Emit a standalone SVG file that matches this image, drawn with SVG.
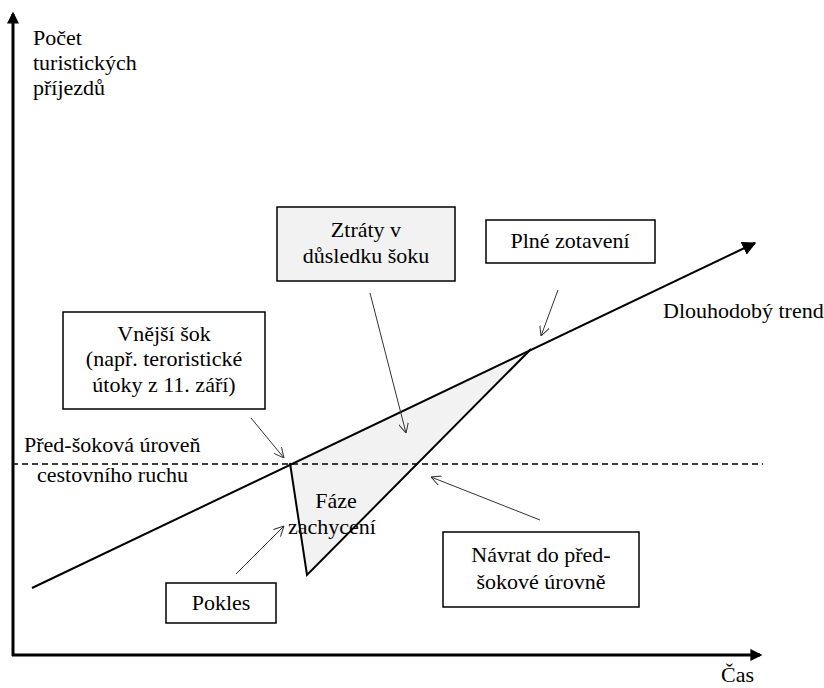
<svg xmlns="http://www.w3.org/2000/svg" width="824" height="688" viewBox="0 0 824 688">
<style>
.box{fill:#fff;stroke:#000;stroke-width:1.5}
.gbox{fill:#f2f2f2;stroke:#000;stroke-width:1.5}
.thin{stroke:#333;stroke-width:1;fill:none}
.axis{stroke:#000;stroke-width:3;fill:none}
.s{font-family:'Liberation Serif',serif;font-size:22px}
</style>
<defs>
<marker id="ah" viewBox="0 0 10 10" refX="10" refY="5" markerWidth="10" markerHeight="10" markerUnits="userSpaceOnUse" orient="auto"><path d="M0,0 L10,5 L0,10" fill="none" stroke="#333" stroke-width="1"/></marker>
<marker id="axh" viewBox="0 0 10 10" refX="8" refY="5" markerWidth="4" markerHeight="4" orient="auto"><path d="M0,0 L10,5 L0,10 Z" fill="#000"/></marker>
<marker id="th" viewBox="0 0 10 10" refX="9" refY="5" markerWidth="7" markerHeight="7" orient="auto"><path d="M0,0 L10,5 L0,10 Z" fill="#000"/></marker>
</defs>
<g id="axes">
<line class="axis" x1="13" y1="656" x2="13" y2="14" marker-end="url(#axh)"/>
<line class="axis" x1="12" y1="655" x2="760" y2="655" marker-end="url(#axh)"/>
</g>
<g id="chart">
<polygon points="290,463 307,575 531,349" fill="#f2f2f2" stroke="none"/>
<line x1="12" y1="464" x2="763" y2="464" stroke="#000" stroke-width="1.3" stroke-dasharray="6,4"/>
<line x1="32" y1="588" x2="755" y2="243" stroke="#000" stroke-width="2" marker-end="url(#th)"/>
<polyline points="290,463 307,575 531,349" fill="none" stroke="#000" stroke-width="2"/>
</g>
<g id="labels" font-family="Liberation Serif, serif" font-size="22">
<text class="s" style="font-family:'Liberation Serif',serif" x="33" y="45">Počet</text>
<text class="s" style="font-family:'Liberation Serif',serif" x="33" y="70">turistických</text>
<text class="s" style="font-family:'Liberation Serif',serif" x="33" y="95">příjezdů</text>
<text class="s" style="font-family:'Liberation Serif',serif" x="663" y="318">Dlouhodobý trend</text>
<text class="s" style="font-family:'Liberation Serif',serif" x="24" y="452">Před-šoková úroveň</text>
<text class="s" style="font-family:'Liberation Serif',serif" x="37" y="482">cestovního ruchu</text>
<text class="s" style="font-family:'Liberation Serif',serif" x="336" y="508" text-anchor="middle">Fáze</text>
<text class="s" style="font-family:'Liberation Serif',serif" x="332" y="534" text-anchor="middle">zachycení</text>
<text class="s" style="font-family:'Liberation Serif',serif" x="721" y="682">Čas</text>
</g>
<g id="n-ztraty" font-family="Liberation Serif, serif" font-size="22">
<rect class="gbox" x="277" y="207" width="178" height="74"/>
<text class="s" style="font-family:'Liberation Serif',serif" x="366" y="237" text-anchor="middle">Ztráty v</text>
<text class="s" style="font-family:'Liberation Serif',serif" x="366" y="263" text-anchor="middle">důsledku šoku</text>
</g>
<g id="n-plne" font-family="Liberation Serif, serif" font-size="22">
<rect class="box" x="486" y="220" width="169" height="43"/>
<text class="s" style="font-family:'Liberation Serif',serif" x="570" y="248" text-anchor="middle">Plné zotavení</text>
</g>
<g id="n-vnejsi" font-family="Liberation Serif, serif" font-size="22">
<rect class="box" x="63" y="312" width="202" height="97"/>
<text class="s" style="font-family:'Liberation Serif',serif" x="164" y="341" text-anchor="middle">Vnější šok</text>
<text class="s" style="font-family:'Liberation Serif',serif" x="164" y="366" text-anchor="middle">(např. teroristické</text>
<text class="s" style="font-family:'Liberation Serif',serif" x="164" y="392" text-anchor="middle">útoky z 11. září)</text>
</g>
<g id="n-pokles" font-family="Liberation Serif, serif" font-size="22">
<rect class="box" x="166" y="583" width="110" height="40"/>
<text class="s" style="font-family:'Liberation Serif',serif" x="221" y="610" text-anchor="middle">Pokles</text>
</g>
<g id="n-navrat" font-family="Liberation Serif, serif" font-size="22">
<rect class="box" x="443" y="532" width="196" height="75"/>
<text class="s" style="font-family:'Liberation Serif',serif" x="541" y="562" text-anchor="middle">Návrat do před-</text>
<text class="s" style="font-family:'Liberation Serif',serif" x="541" y="589" text-anchor="middle">šokové úrovně</text>
</g>
<g id="connectors">
<line class="thin" x1="370" y1="293" x2="406" y2="433" marker-end="url(#ah)"/>
<line class="thin" x1="558" y1="290" x2="541" y2="336" marker-end="url(#ah)"/>
<line class="thin" x1="251" y1="418" x2="284" y2="458" marker-end="url(#ah)"/>
<line class="thin" x1="236" y1="574" x2="284" y2="526" marker-end="url(#ah)"/>
<line class="thin" x1="540" y1="520" x2="431" y2="477" marker-end="url(#ah)"/>
</g>
</svg>
